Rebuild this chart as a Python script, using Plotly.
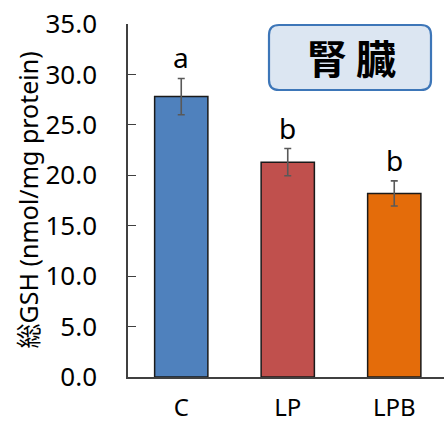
import plotly.graph_objects as go

# Kidney total glutathione by diet group
groups = ["C", "LP", "LPB"]
gsh_mean = [27.8, 21.3, 18.2]
gsh_err = [1.8, 1.35, 1.25]
sig_letters = ["a", "b", "b"]
bar_colors = ["#4f81bd", "#c0504d", "#e46c0a"]
y_ticks = [0, 5, 10, 15, 20, 25, 30, 35]
y_tick_text = [f"{v:.1f}" for v in y_ticks]

W, H = 444, 424
ML, MR, MT, MB = 128, 0, 24, 47
FONT = "Noto Sans, Noto Sans CJK JP, sans-serif"

fig = go.Figure()
fig.add_trace(go.Bar(
    x=groups, y=gsh_mean, width=0.5,
    marker=dict(color=bar_colors, line=dict(color="#1a1a1a", width=1.5)),
    error_y=dict(type="data", array=gsh_err, visible=True,
                 color="#595959", thickness=1.6, width=3.5),
    showlegend=False,
))

# significance letters above the error bars
for g, m, e, s in zip(groups, gsh_mean, gsh_err, sig_letters):
    fig.add_annotation(x=g, y=m + e, text=s, showarrow=False, yanchor="bottom",
                       yshift=0, font=dict(size=28, color="black", family=FONT))

# y axis title
fig.add_annotation(xref="paper", yref="paper", x=(27 - ML) / (W - ML - MR), y=0.5,
                   text="総GSH (nmol/mg protein)", textangle=-90, showarrow=False,
                   xanchor="center", yanchor="middle",
                   font=dict(size=25, color="black", family=FONT))

# rounded label box for the organ name
pw, ph = W - ML - MR, H - MT - MB
def px(x):
    return (x - ML) / pw
def py(y):
    return (H - MB - y) / ph
x0, x1, y0, y1, r = 269, 431, 25, 90, 10
path = (f"M {px(x0 + r)},{py(y0)} L {px(x1 - r)},{py(y0)} "
        f"Q {px(x1)},{py(y0)} {px(x1)},{py(y0 + r)} L {px(x1)},{py(y1 - r)} "
        f"Q {px(x1)},{py(y1)} {px(x1 - r)},{py(y1)} L {px(x0 + r)},{py(y1)} "
        f"Q {px(x0)},{py(y1)} {px(x0)},{py(y1 - r)} L {px(x0)},{py(y0 + r)} "
        f"Q {px(x0)},{py(y0)} {px(x0 + r)},{py(y0)} Z")
fig.add_shape(type="path", xref="paper", yref="paper", path=path,
              fillcolor="#dce6f2", line=dict(color="#3d76b8", width=2.2))
fig.add_annotation(xref="paper", yref="paper", x=px(351), y=py(57),
                   text="<b>腎 臓</b>", showarrow=False, xanchor="center", yanchor="middle",
                   font=dict(size=40, color="black", family="Noto Sans CJK JP"))

fig.update_layout(
    width=W, height=H, margin=dict(l=ML, r=MR, t=MT, b=MB, autoexpand=False),
    paper_bgcolor="white", plot_bgcolor="white",
    font=dict(family=FONT, color="black"),
    bargap=0.5,
)
fig.update_xaxes(range=[-0.5, -0.5 + pw / 106.5], showline=True, linecolor="#404040",
                 linewidth=1.5, ticks="", showgrid=False, zeroline=False,
                 automargin=False,
                 tickfont=dict(size=24, color="black", family=FONT),
                 ticklabelstandoff=8)
fig.update_yaxes(range=[0, 35], tickvals=y_ticks, ticktext=y_tick_text,
                 showline=True, linecolor="#404040", linewidth=1.5,
                 ticks="inside", ticklen=8, tickcolor="#404040", tickwidth=1.2,
                 showgrid=False, zeroline=False, automargin=False,
                 tickfont=dict(size=26, color="black", family=FONT),
                 ticklabelstandoff=24)

fig.write_html("out.html")
